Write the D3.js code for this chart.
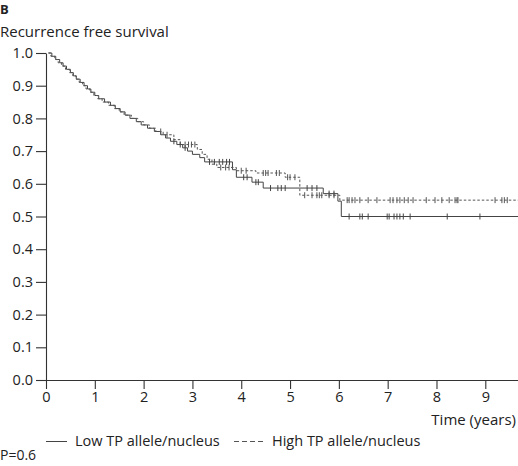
<!DOCTYPE html>
<html lang="en">
<head>
<meta charset="UTF-8">
<title>Recurrence free survival</title>
<style>
  body { margin: 0; background: #fff; }
  svg text { font-family: "Open Sans", "Noto Sans", sans-serif; fill: #222; }
</style>
</head>
<body>
<svg id="chart" width="518" height="466"></svg>
<script src="https://d3js.org/d3.v7.min.js"></script>
<script>
// Kaplan-Meier steps: [time (years), survival after the event]
const lowSteps = [
  [0.05, 1.0], [0.12, 0.99], [0.2, 0.98], [0.28, 0.97], [0.35, 0.96], [0.42, 0.95],
  [0.5, 0.94], [0.56, 0.93], [0.62, 0.92], [0.7, 0.91], [0.78, 0.90], [0.85, 0.89],
  [0.92, 0.88], [1.0, 0.87], [1.08, 0.86], [1.2, 0.85], [1.32, 0.84], [1.42, 0.83],
  [1.52, 0.82], [1.62, 0.81], [1.72, 0.80], [1.85, 0.79], [1.95, 0.78], [2.08, 0.77],
  [2.22, 0.76], [2.35, 0.75], [2.45, 0.74], [2.55, 0.73], [2.68, 0.72], [2.8, 0.71],
  [2.9, 0.70], [3.0, 0.69], [3.15, 0.68], [3.25, 0.667], [3.82, 0.643], [3.9, 0.62],
  [4.22, 0.605], [4.45, 0.587], [5.68, 0.57], [5.98, 0.547], [6.05, 0.50]
];
const highSteps = [
  [0.05, 1.0], [0.1, 0.99], [0.18, 0.98], [0.25, 0.97], [0.32, 0.96], [0.4, 0.95],
  [0.48, 0.94], [0.55, 0.93], [0.62, 0.92], [0.68, 0.91], [0.75, 0.90], [0.82, 0.89],
  [0.9, 0.88], [0.98, 0.87], [1.06, 0.86], [1.15, 0.85], [1.28, 0.84], [1.4, 0.83],
  [1.5, 0.82], [1.6, 0.81], [1.75, 0.80], [1.88, 0.79], [2.0, 0.78], [2.12, 0.77],
  [2.25, 0.76], [2.4, 0.75], [2.62, 0.735], [2.75, 0.72], [3.1, 0.705], [3.2, 0.69],
  [3.3, 0.675], [3.4, 0.66], [3.5, 0.65], [3.9, 0.64], [4.3, 0.633], [4.9, 0.62],
  [5.2, 0.565], [6.02, 0.55]
];
// censored observations (years)
const lowCensor = [2.62, 2.75, 2.85, 3.35, 3.45, 3.55, 3.62, 3.7, 3.76, 4.05, 4.12, 4.3,
  4.35, 4.6, 4.75, 4.82, 4.9, 5.35, 5.45, 5.55, 5.8, 5.9, 6.21, 6.43, 6.48, 6.6, 6.99,
  7.03, 7.13, 7.19, 7.25, 7.32, 7.46, 8.22, 8.89];
const highCensor = [2.35, 2.48, 2.85, 2.92, 2.98, 3.05, 3.58, 3.68, 3.75, 4.0, 4.1, 4.45,
  4.5, 4.55, 4.72, 4.78, 4.95, 5.0, 5.1, 5.3, 5.45, 5.55, 5.6, 5.65, 5.8, 5.9, 6.17,
  6.21, 6.27, 6.33, 6.43, 6.6, 6.78, 7.05, 7.11, 7.19, 7.25, 7.34, 7.42, 7.52, 7.79,
  7.97, 8.11, 8.26, 8.38, 8.42, 8.44, 9.2, 9.34, 9.39, 9.45];

const xTicks = [0, 1, 2, 3, 4, 5, 6, 7, 8, 9];
const yTicks = [0, 0.1, 0.2, 0.3, 0.4, 0.5, 0.6, 0.7, 0.8, 0.9, 1.0];
const tMax = 9.67;

const svg = d3.select("#chart");
const x = d3.scaleLinear().domain([0, tMax]).range([46, 518]);
const y = d3.scaleLinear().domain([0, 1]).range([380, 53]);

// axes
const xAxis = svg.append("g")
  .attr("transform", `translate(0,${y(0)})`)
  .call(d3.axisBottom(x).tickValues(xTicks).tickFormat(d3.format("d")).tickSize(9).tickPadding(3).tickSizeOuter(0));
const yAxis = svg.append("g")
  .attr("transform", `translate(${x(0)},0)`)
  .call(d3.axisLeft(y).tickValues(yTicks).tickFormat(d3.format(".1f")).tickSize(10).tickPadding(3).tickSizeOuter(0));
[xAxis, yAxis].forEach(g => {
  g.selectAll("path, line").attr("stroke", "#333").attr("stroke-width", 1.1);
  g.selectAll("text").style("font-size", "14.5px").attr("fill", "#222")
    .style("font-family", "'Open Sans', 'Noto Sans', sans-serif");
});

// survival curves
const stepAt = (steps, t) => {
  const i = d3.bisector(d => d[0]).right(steps, t) - 1;
  return steps[Math.max(i, 0)][1];
};
const line = d3.line().x(d => x(d[0])).y(d => y(d[1])).curve(d3.curveStepAfter);

const groups = [
  { steps: lowSteps, censor: lowCensor, dash: null, color: "#444" },
  { steps: highSteps, censor: highCensor, dash: "2.5,2", color: "#555" }
];
groups.forEach(gp => {
  const pts = gp.steps.concat([[tMax, gp.steps[gp.steps.length - 1][1]]]);
  svg.append("path")
    .attr("d", line(pts))
    .attr("fill", "none")
    .attr("stroke", gp.color)
    .attr("stroke-width", 1)
    .attr("stroke-dasharray", gp.dash);
  svg.append("g").selectAll("line")
    .data(gp.censor)
    .enter()
    .append("line")
    .attr("x1", d => x(d)).attr("x2", d => x(d))
    .attr("y1", d => y(stepAt(gp.steps, d)) - 3)
    .attr("y2", d => y(stepAt(gp.steps, d)) + 3)
    .attr("stroke", gp.color)
    .attr("stroke-width", 1);
});

// titles
svg.append("text").attr("x", 0).attr("y", 14).text("B")
  .style("font-size", "13px").style("font-weight", "bold");
svg.append("text").attr("x", 0).attr("y", 37).text("Recurrence free survival")
  .style("font-size", "15px");
svg.append("text").attr("x", 516).attr("y", 425).attr("text-anchor", "end")
  .text("Time (years)").style("font-size", "15px");

// legend
svg.append("line").attr("x1", 46).attr("x2", 67).attr("y1", 441.5).attr("y2", 441.5)
  .attr("stroke", "#444");
svg.append("text").attr("x", 75).attr("y", 446).text("Low TP allele/nucleus")
  .style("font-size", "14.5px");
svg.append("line").attr("x1", 234).attr("x2", 265).attr("y1", 441.5).attr("y2", 441.5)
  .attr("stroke", "#555").attr("stroke-dasharray", "5,3");
svg.append("text").attr("x", 272).attr("y", 446).text("High TP allele/nucleus")
  .style("font-size", "14.5px");
svg.append("text").attr("x", 0).attr("y", 460).text("P=0.6")
  .style("font-size", "14px");
</script>
</body>
</html>
